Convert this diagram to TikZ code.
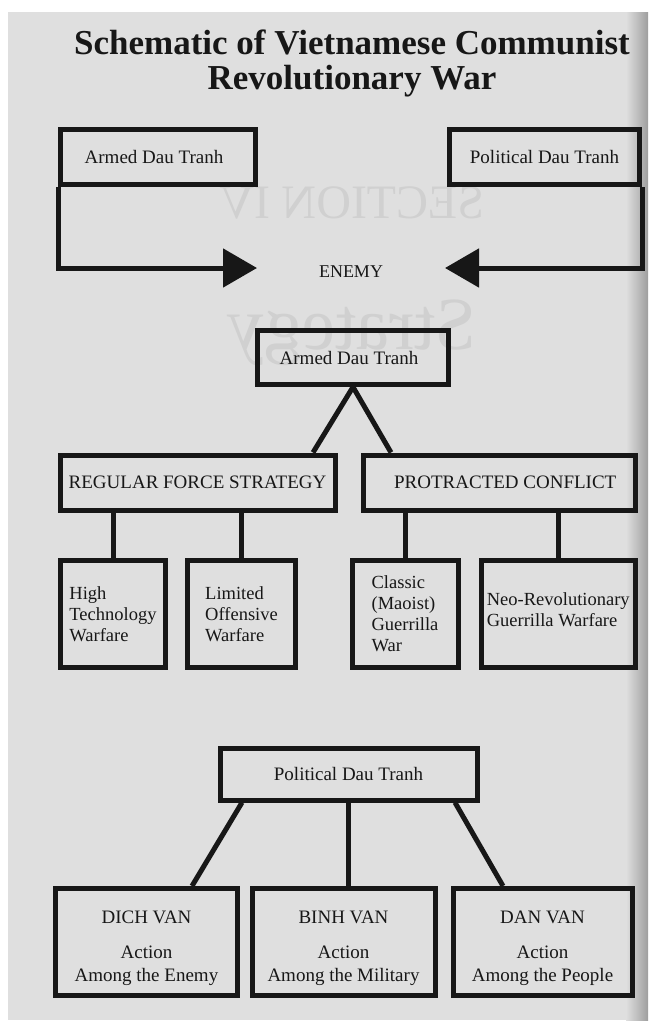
\documentclass[tikz,border=0pt]{standalone}
\usepackage{fontspec}
\setmainfont{Liberation Serif}
\usetikzlibrary{arrows.meta}
\definecolor{paper}{gray}{0.875}
\definecolor{pageedge}{gray}{0.62}
\definecolor{ink}{gray}{0.09}
\definecolor{showthrough}{gray}{0.815}
\tikzset{
  box/.style={draw=ink, line width=5pt, inner sep=0pt, text=ink, align=center,
    font=\fontsize{19}{21}\selectfont},
  leaf/.style={box, align=left, font=\fontsize{18.5}{21}\selectfont,
    minimum height=106.5pt},
  agency/.style={box, font=\fontsize{19}{23}\selectfont,
    minimum height=106.5pt},
  link/.style={draw=ink, line width=5pt, line join=round},
  thrust/.style={link, line join=miter, -{Triangle[length=34pt, width=38pt]}},
  titletext/.style={text=ink, inner sep=0pt, anchor=base,
    font=\fontsize{35}{37}\selectfont\bfseries},
  ghost/.style={text=showthrough, inner sep=0pt, xscale=-1, transform shape}
}
\begin{document}
\begin{tikzpicture}[x=1pt, y=-1pt]
\useasboundingbox (0,0) rectangle (648,1028);
% page of the book on the scanner bed
\fill[white] (0,0) rectangle (648,1028);
\fill[paper] (8,12) rectangle (648,1020);
\shade[left color=paper, right color=pageedge] (626,12) rectangle (648,1020);

% print showing through from the back of the leaf
\node[ghost, font=\fontsize{48}{48}\selectfont] (ghostsec) at (352,203) {SECTION IV};
\node[ghost, font=\fontsize{75}{75}\selectfont] (ghoststrat) at (352,333) {Strategy};

% title
\node[titletext] (title1) at (352,54) {Schematic of Vietnamese Communist};
\node[titletext] (title2) at (352,89) {Revolutionary War};

% the two forms of struggle converging on the enemy
\node[box, minimum width=195pt, minimum height=55pt] (armedTop) at (158,157) {Armed Dau Tranh\hspace*{8pt}};
\node[box, minimum width=190pt, minimum height=55pt] (politTop) at (544.5,157) {Political Dau Tranh};
\node[text=ink, inner sep=0pt, anchor=base, font=\fontsize{18}{18}\selectfont] (enemy) at (351,277) {ENEMY};
\coordinate (tipL) at (257,268);
\coordinate (tipR) at (445,268);
\draw[thrust] (armedTop.south west) |- (tipL);
\draw[thrust] (politTop.south east) |- (tipR);

% armed struggle branch
\node[box, minimum width=191pt, minimum height=54pt] (armedMid) at (353,357.5) {Armed Dau Tranh\hspace*{8pt}};
\node[box, minimum width=275pt, minimum height=55pt] (reg) at (197.5,482.5) {REGULAR FORCE STRATEGY};
\node[box, minimum width=272.5pt, minimum height=55pt] (prot) at (499.25,482.5) {\hspace*{12pt}PROTRACTED CONFLICT};
\draw[link] ([xshift=115.5pt]reg.north) -- (armedMid.south) -- ([xshift=-108.25pt]prot.north);

\node[leaf, minimum width=105pt] (hightech) at (113,613.75) {High\\Technology\\Warfare};
\node[leaf, minimum width=108pt] (limited) at (241.5,613.75) {Limited\\Offensive\\Warfare\hspace*{0pt}};
\node[leaf, minimum width=106pt] (classic) at (405,613.75) {Classic\\(Maoist)\\Guerrilla\\War};
\node[leaf, minimum width=154.5pt] (neorev) at (558.25,613.75) {Neo-Revolutionary\\Guerrilla Warfare\rule[-9pt]{0pt}{9pt}};
\draw[link] (hightech.north |- reg.south) -- (hightech.north);
\draw[link] (limited.north |- reg.south) -- (limited.north);
\draw[link] (classic.north |- prot.south) -- (classic.north);
\draw[link] (neorev.north |- prot.south) -- (neorev.north);

% political struggle branch
\node[box, minimum width=257pt, minimum height=52pt] (polit) at (348.5,774) {Political Dau Tranh};
\node[agency, minimum width=182pt] (dich) at (146.5,941.75) {\rule{0pt}{25pt}DICH VAN\\[12pt]Action\\Among the Enemy};
\node[agency, minimum width=183pt] (binh) at (343.5,941.75) {\rule{0pt}{25pt}BINH VAN\\[12pt]Action\\Among the Military};
\node[agency, minimum width=179pt] (dan) at (542.5,941.75) {\rule{0pt}{25pt}DAN VAN\\[12pt]Action\\Among the People};
\draw[link] ([xshift=-106.5pt]polit.south) -- ([xshift=45.5pt]dich.north);
\draw[link] (polit.south) -- (binh.north -| polit.south);
\draw[link] ([xshift=106.5pt]polit.south) -- ([xshift=-39.5pt]dan.north);
\end{tikzpicture}
\end{document}
